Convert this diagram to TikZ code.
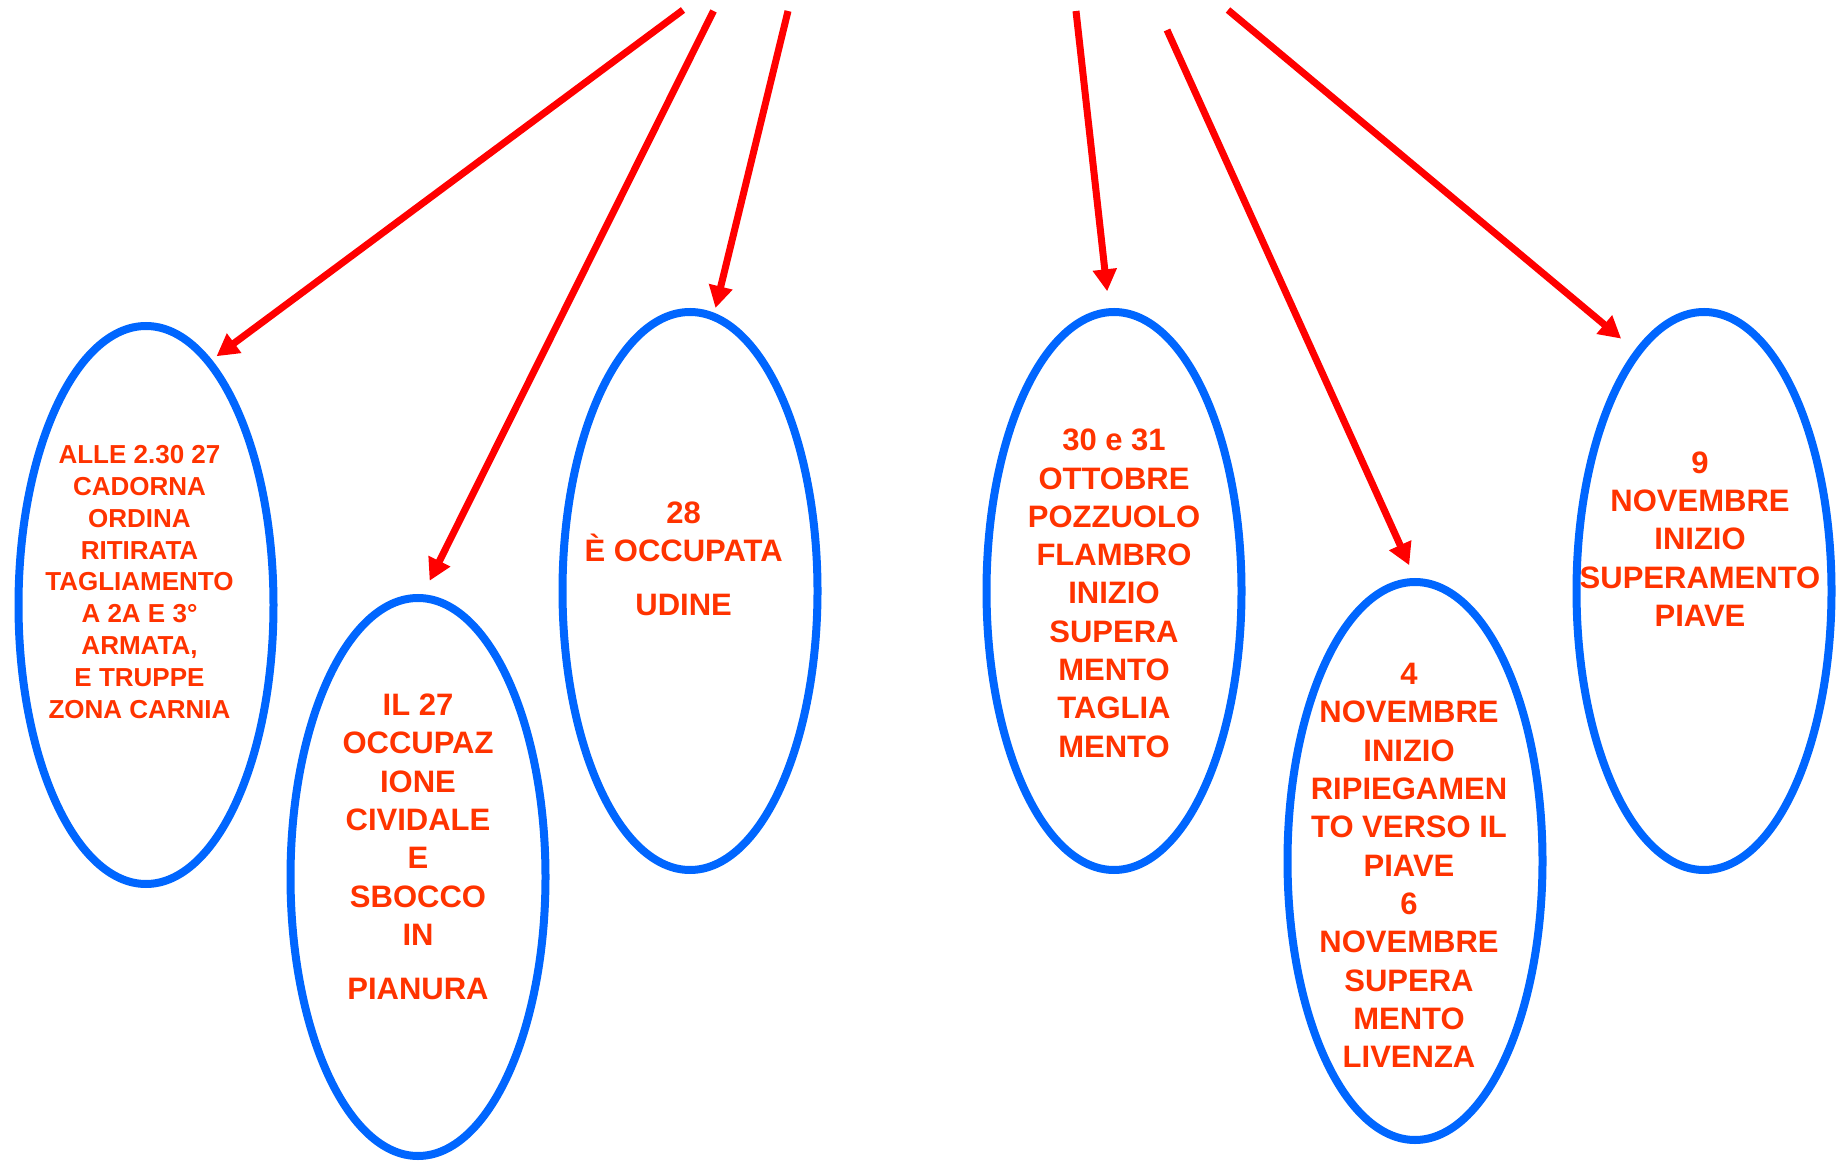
\documentclass[tikz,border=0pt]{standalone}
\usepackage{fontspec}
\setmainfont{Liberation Sans}
\usetikzlibrary{shapes.geometric,arrows.meta,positioning}
\definecolor{txtred}{HTML}{FF3300}
\definecolor{bubbleblue}{HTML}{0066FF}
\definecolor{arrowred}{HTML}{FF0000}
\tikzset{
	bubble/.style={ellipse,draw=bubbleblue,line width=8pt,minimum width=255pt,minimum height=558pt,inner sep=0pt},
	txt/.style={text=txtred,align=center,inner sep=0pt,font=\bfseries\fontsize{31}{38.3}\selectfont},
	arrow/.style={draw=arrowred,line width=7pt,-{Triangle[length=22pt,width=23pt]}}
}
\begin{document}
\begin{tikzpicture}[x=1pt,y=1pt]
			\useasboundingbox (0,0) rectangle (1846,1163);
			%% ellissi
			\node[bubble] (b1) at (146,558) {};
			\node[bubble] (b2) at (418,286) {};
			\node[bubble] (b3) at (690,572) {};
			\node[bubble] (b4) at (1114,572) {};
			\node[bubble] (b5) at (1415,302) {};
			\node[bubble] (b6) at (1704,572) {};
			%% testi
			\node[txt,font=\bfseries\fontsize{26}{31.8}\selectfont,above right =23 and -6.5 of b1.center,anchor=center] (l1)
				{ALLE 2.30 27\\CADORNA\\ORDINA\\RITIRATA\\TAGLIAMENTO\\A 2A E 3°\\ARMATA,\\E TRUPPE\\ZONA CARNIA};
			\node[txt,above right =30 and 0 of b2.center,anchor=center] (l2)
				{IL 27\\OCCUPAZ\\IONE\\CIVIDALE\\E\\SBOCCO\\IN\\[16pt]PIANURA};
			\node[txt,above right =32.3 and -6.3 of b3.center,anchor=center] (l3)
				{28\\È OCCUPATA\\[15.5pt]UDINE};
			\node[txt,above right =-2.3 and 0 of b4.center,anchor=center] (l4)
				{30 e 31\\OTTOBRE\\POZZUOLO\\FLAMBRO\\INIZIO\\SUPERA\\MENTO\\TAGLIA\\MENTO};
			\node[txt,above right =-4.5 and -6 of b5.center,anchor=center] (l5)
				{4\\NOVEMBRE\\INIZIO\\RIPIEGAMEN\\TO VERSO IL\\PIAVE\\6\\NOVEMBRE\\SUPERA\\MENTO\\LIVENZA};
			\node[txt,above right =52 and -4 of b6.center,anchor=center] (l6)
				{9\\NOVEMBRE\\INIZIO\\SUPERAMENTO\\PIAVE};
			%% partenze delle frecce
			\coordinate (s1) at (683,1153);
			\coordinate (s2) at (713.5,1152);
			\coordinate (s3) at (788,1152);
			\coordinate (s4) at (1076,1152);
			\coordinate (s5) at (1167,1133);
			\coordinate (s6) at (1228,1153);
			% frecce verso le ellissi
			\draw[arrow,shorten >=6pt] (s1) -- (b1.75.5);
			\draw[arrow,shorten >=15pt] (s2) -- (b2.89.7);
			\draw[arrow,shorten >=5pt] (s3) -- (b3.85.1);
			\draw[arrow,shorten >=17pt] (s4) -- (b4.91);
			\draw[arrow,shorten >=14pt] (s5) -- (b5.90);
			\draw[arrow,shorten >=18pt] (s6) -- (b6.106.4);
\end{tikzpicture}
\end{document}
